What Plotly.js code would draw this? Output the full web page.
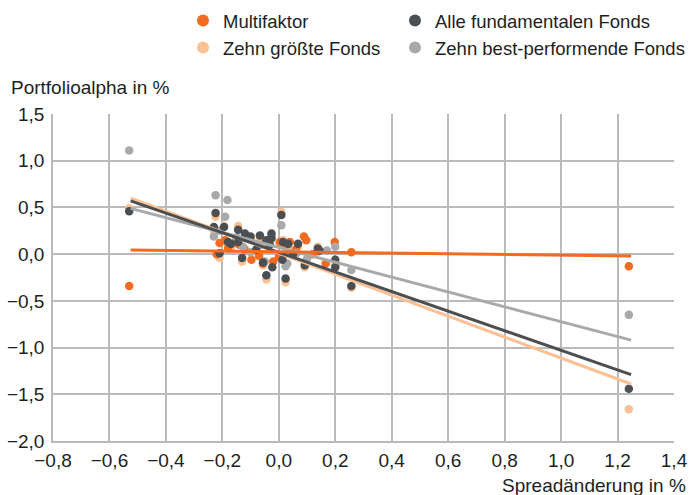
<!DOCTYPE html>
<html>
<head>
<meta charset="utf-8">
<script src="https://cdn.plot.ly/plotly-3.0.1.min.js"></script>
<style>
  html, body { margin: 0; padding: 0; background: #fff; }
  #chart { width: 689px; height: 495px; }
</style>
</head>
<body>
<div id="chart"></div>
<script>
// ---- Data ----
const seriesNames = ["Multifaktor", "Zehn größte Fonds", "Alle fundamentalen Fonds", "Zehn best-performende Fonds"];

// Multifaktor
const xMulti = [-0.53, 1.24, -0.21, -0.19, -0.16, -0.097, -0.056, 0.003, 0.021, 0.039, 0.089, 0.097, -0.02, 0.166, 0.198, 0.257, -0.22, -0.12, 0.12, -0.07, 0.06, -0.14, 0.0, -0.18, 0.14];
const yMulti = [-0.34, -0.13, 0.12, 0.15, 0.12, -0.06, -0.10, 0.13, 0.11, 0.13, 0.19, 0.15, -0.08, -0.10, 0.13, 0.02, 0.0, 0.05, 0.0, -0.02, 0.05, 0.10, -0.03, 0.06, 0.03];

// Zehn größte Fonds
const xLargest = [-0.53, 1.24, -0.224, -0.21, -0.144, -0.13, -0.044, 0.009, 0.024, 0.138, 0.257, -0.23, -0.194, -0.18, -0.12, -0.10, -0.067, -0.026, 0.015, 0.068, 0.092, 0.20, -0.17, 0.033, -0.056];
const yLargest = [0.49, -1.66, 0.40, -0.04, 0.30, -0.08, -0.27, 0.45, -0.30, 0.08, -0.36, 0.25, 0.30, 0.10, 0.20, 0.16, 0.17, 0.20, 0.15, 0.08, -0.14, -0.12, 0.06, 0.09, -0.12];

// Alle fundamentalen Fonds
const xAll = [-0.53, 1.24, -0.224, -0.23, -0.194, -0.21, -0.18, -0.17, -0.144, -0.12, -0.10, -0.144, -0.13, -0.067, -0.044, -0.026, -0.032, -0.044, -0.023, -0.056, 0.009, 0.013, 0.024, 0.015, 0.033, 0.068, -0.026, 0.138, 0.144, 0.092, 0.20, 0.20, 0.257, -0.08, 0.05];
const yAll = [0.46, -1.44, 0.44, 0.29, 0.29, 0.01, 0.13, 0.11, 0.26, 0.22, 0.19, 0.13, -0.04, 0.20, 0.15, 0.22, 0.10, -0.225, -0.14, -0.09, 0.42, -0.06, -0.26, 0.13, 0.11, 0.11, 0.17, 0.06, 0.04, -0.12, -0.06, -0.14, -0.34, 0.05, 0.0];

// Zehn best-performende Fonds
const xBest = [-0.53, 1.24, -0.224, -0.182, -0.19, -0.23, -0.127, 0.009, 0.024, 0.062, 0.20, 0.257, 0.03, -0.10, -0.15, -0.06, 0.14, 0.10, -0.05, 0.17, -0.21];
const yBest = [1.11, -0.65, 0.63, 0.58, 0.40, 0.19, 0.08, 0.31, -0.13, 0.01, 0.08, -0.17, -0.10, 0.02, 0.18, 0.10, 0.05, -0.05, -0.08, 0.04, 0.25];

// Trend lines (endpoints)
const fitX = [-0.525, 1.248];
const fitMulti = [0.045, -0.02];
const fitLargest = [0.60, -1.39];
const fitAll = [0.57, -1.29];
const fitBest = [0.49, -0.92];

const xTicks = [-0.8, -0.6, -0.4, -0.2, 0.0, 0.2, 0.4, 0.6, 0.8, 1.0, 1.2, 1.4];
const yTicks = [-2.0, -1.5, -1.0, -0.5, 0.0, 0.5, 1.0, 1.5];

// ---- Styling ----
const colors = {
  multi: "#f26b21",
  largest: "#fbc093",
  all: "#4b4f52",
  best: "#a9a9a9"
};
const FONT = "Liberation Sans, Arial, Helvetica, sans-serif";
const TXT = "#1e1e1e";
const MS = 8.5;

function pts(x, y, name, color, legend, rank) {
  return {
    type: "scatter", mode: "markers", x: x, y: y, name: name,
    marker: { color: color, size: MS, line: { width: 0 } },
    legend: legend, legendrank: rank, showlegend: true, hoverinfo: "x+y+name"
  };
}
function fit(y, color) {
  return {
    type: "scatter", mode: "lines", x: fitX, y: y,
    line: { color: color, width: 3 }, showlegend: false, hoverinfo: "skip"
  };
}

const traces = [
  pts(xLargest, yLargest, seriesNames[1], colors.largest, "legend", 2),
  pts(xMulti, yMulti, seriesNames[0], colors.multi, "legend", 1),
  pts(xBest, yBest, seriesNames[3], colors.best, "legend2", 2),
  pts(xAll, yAll, seriesNames[2], colors.all, "legend2", 1),
  fit(fitLargest, colors.largest),
  fit(fitBest, colors.best),
  fit(fitAll, colors.all),
  fit(fitMulti, colors.multi)
];

const W = 689, H = 495;
const M = { l: 53, r: 15, t: 114, b: 54, autoexpand: false };
const pw = W - M.l - M.r, ph = H - M.t - M.b;
const px2x = p => (p - M.l) / pw;
const py2y = p => (H - M.b - p) / ph;

const legendCommon = {
  xanchor: "left", yanchor: "top",
  orientation: "v", traceorder: "normal", itemsizing: "constant",
  font: { family: FONT, size: 18.5, color: TXT },
  bgcolor: "rgba(0,0,0,0)", borderwidth: 0
};

const layout = {
  width: W, height: H,
  margin: M,
  paper_bgcolor: "#ffffff",
  plot_bgcolor: "#ffffff",
  separators: ",.",
  font: { family: FONT, size: 19, color: TXT },
  xaxis: {
    range: [-0.8, 1.4],
    tickvals: xTicks,
    tickformat: ".1f",
    showgrid: true, gridcolor: "#bababa", gridwidth: 1.5,
    zeroline: false,
    showline: true, linecolor: "#bababa", linewidth: 1.5,
    ticks: "", ticklabelstandoff: 1,
    tickfont: { family: FONT, size: 19, color: TXT },
    fixedrange: true
  },
  yaxis: {
    range: [-2.0, 1.5],
    tickvals: yTicks,
    tickformat: ".1f",
    showgrid: true, gridcolor: "#bababa", gridwidth: 1.5,
    zeroline: false,
    showline: true, linecolor: "#bababa", linewidth: 1.5,
    ticks: "", ticklabelstandoff: 3,
    tickfont: { family: FONT, size: 19, color: TXT },
    fixedrange: true
  },
  legend: Object.assign({}, legendCommon, { x: px2x(183), y: py2y(2) }),
  legend2: Object.assign({}, legendCommon, { x: px2x(395), y: py2y(2) }),
  annotations: [
    {
      text: "Portfolioalpha in %", xref: "paper", yref: "paper",
      x: px2x(9), y: py2y(87), xanchor: "left", yanchor: "middle",
      showarrow: false, font: { family: FONT, size: 19, color: TXT }
    },
    {
      text: "Spreadänderung in %", xref: "paper", yref: "paper",
      x: px2x(688), y: py2y(485), xanchor: "right", yanchor: "middle",
      showarrow: false, font: { family: FONT, size: 19, color: TXT }
    }
  ],
  showlegend: true,
  hovermode: "closest"
};

Plotly.newPlot("chart", traces, layout, { displayModeBar: false });
</script>
</body>
</html>
